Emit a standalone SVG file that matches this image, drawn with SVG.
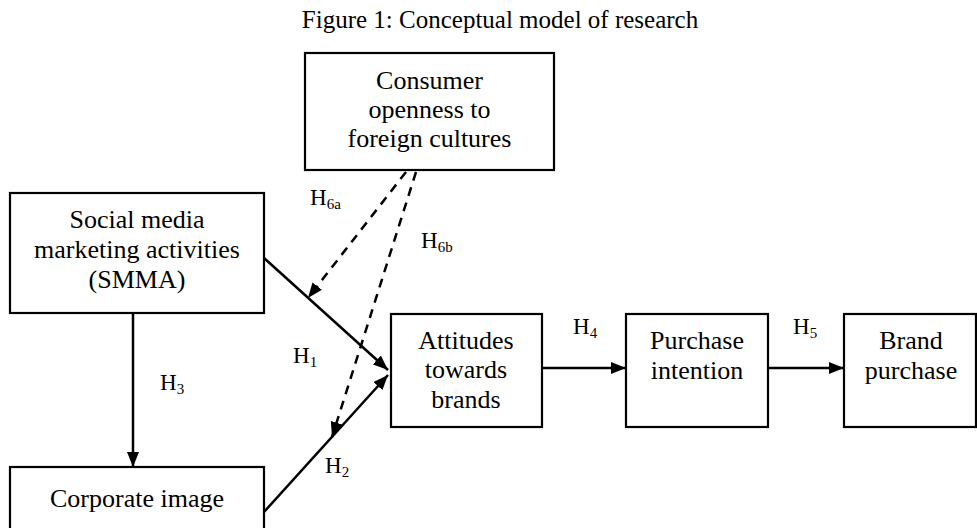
<svg xmlns="http://www.w3.org/2000/svg" width="977" height="528" viewBox="0 0 977 528">
<style>
.box{fill:#fff;stroke:#000;stroke-width:2.2}
.t{font-family:"Liberation Serif","Times New Roman",serif;font-size:26px;fill:#000;text-anchor:middle}
.title{font-family:"Liberation Serif","Times New Roman",serif;font-size:25px;fill:#000;text-anchor:middle}
.h{font-family:"Liberation Serif","Times New Roman",serif;font-size:23px;fill:#000}
.sub{font-size:15px}
.ln{stroke:#000;stroke-width:2.5;fill:none}
.dash{stroke:#000;stroke-width:2.5;fill:none;stroke-dasharray:9 7}
</style>
<defs>
<marker id="ah" markerUnits="userSpaceOnUse" markerWidth="16" markerHeight="12" refX="15" refY="6" orient="auto">
<path d="M0,0 L15,6 L0,12 z" fill="#000"/>
</marker>
</defs>
<text class="title" x="500" y="28">Figure 1: Conceptual model of research</text>
<g id="connectors">
<line class="ln" x1="264" y1="258" x2="388" y2="370" marker-end="url(#ah)"/>
<line class="ln" x1="264" y1="512" x2="388" y2="375" marker-end="url(#ah)"/>
<line class="ln" x1="133" y1="313" x2="133" y2="467" marker-end="url(#ah)"/>
<line class="ln" x1="542" y1="368" x2="626" y2="368" marker-end="url(#ah)"/>
<line class="ln" x1="768" y1="368" x2="844" y2="368" marker-end="url(#ah)"/>
<line class="dash" x1="406" y1="172" x2="308" y2="298" marker-end="url(#ah)"/>
<line class="dash" x1="416" y1="172" x2="332" y2="437" marker-end="url(#ah)"/>
<text class="h" x="310" y="205">H<tspan class="sub" dy="4">6a</tspan></text>
<text class="h" x="421" y="248">H<tspan class="sub" dy="4">6b</tspan></text>
<text class="h" x="293" y="363">H<tspan class="sub" dy="4">1</tspan></text>
<text class="h" x="160" y="390">H<tspan class="sub" dy="4">3</tspan></text>
<text class="h" x="325" y="473">H<tspan class="sub" dy="4">2</tspan></text>
<text class="h" x="573" y="334">H<tspan class="sub" dy="4">4</tspan></text>
<text class="h" x="793" y="334">H<tspan class="sub" dy="4">5</tspan></text>
</g>
<g id="consumer">
<rect class="box" x="305" y="53" width="249" height="117"/>
<text class="t" x="429.5" y="89">Consumer</text>
<text class="t" x="429.5" y="118">openness to</text>
<text class="t" x="429.5" y="147">foreign cultures</text>
</g>
<g id="smma">
<rect class="box" x="10" y="193" width="254" height="120"/>
<text class="t" x="137" y="228">Social media</text>
<text class="t" x="137" y="258">marketing activities</text>
<text class="t" x="137" y="288">(SMMA)</text>
</g>
<g id="corporate">
<rect class="box" x="10" y="467" width="254" height="80"/>
<text class="t" x="137" y="507">Corporate image</text>
</g>
<g id="attitudes">
<rect class="box" x="391" y="314" width="151" height="113"/>
<text class="t" x="466" y="349">Attitudes</text>
<text class="t" x="466" y="378">towards</text>
<text class="t" x="466" y="408">brands</text>
</g>
<g id="purchase">
<rect class="box" x="626" y="314" width="142" height="113"/>
<text class="t" x="697" y="349">Purchase</text>
<text class="t" x="697" y="379">intention</text>
</g>
<g id="brand">
<rect class="box" x="844" y="314" width="132" height="113"/>
<text class="t" x="911" y="349">Brand</text>
<text class="t" x="911" y="379">purchase</text>
</g>
</svg>
